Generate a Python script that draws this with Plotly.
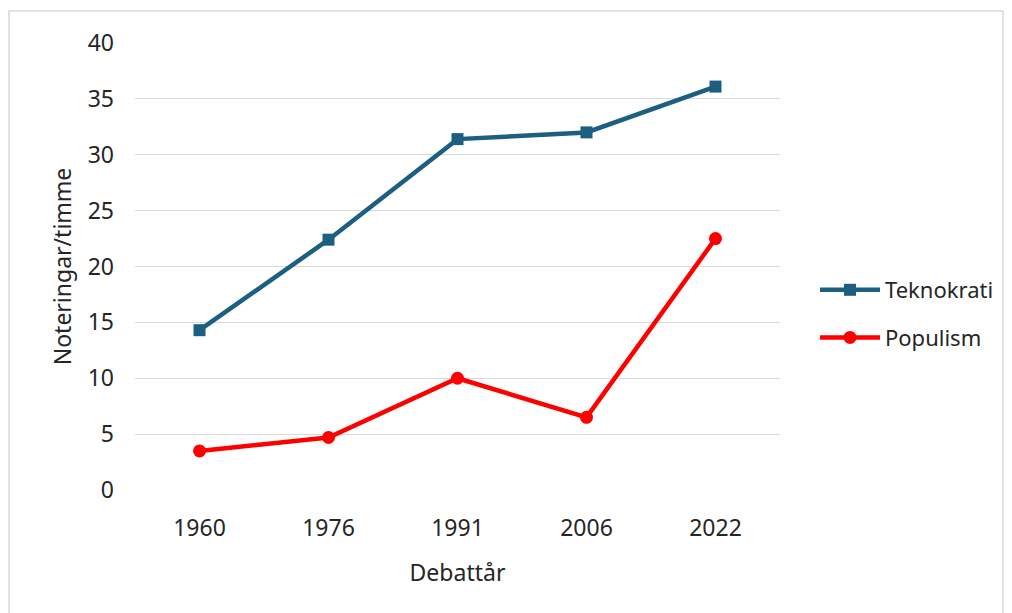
import plotly.graph_objects as go

years = ["1960", "1976", "1991", "2006", "2022"]
teknokrati = [14.3, 22.4, 31.4, 32.0, 36.1]
populism = [3.5, 4.7, 10.0, 6.5, 22.5]
y_ticks = [0, 5, 10, 15, 20, 25, 30, 35, 40]

FONT = "Noto Sans"
TICK_FS = 23
TITLE_FS = 23
LEG_FS = 22
OFF = 8  # default body margin of the page

fig = go.Figure()
fig.add_trace(go.Scatter(
    x=years, y=teknokrati, name="Teknokrati", mode="lines+markers", legendgroup="a",
    line=dict(color="#1C5F80", width=4.5),
    marker=dict(symbol="square", size=12, color="#1C5F80"),
))
fig.add_trace(go.Scatter(
    x=years, y=populism, name="Populism", mode="lines+markers", legendgroup="b",
    line=dict(color="#FF0000", width=4.5),
    marker=dict(symbol="circle", size=13, color="#FF0000"),
))

W, H = 1012 - OFF, 613 - OFF
L, R, T, B = 135 - OFF, 1012 - 780, 43 - OFF, 613 - 490
pw, ph = W - L - R, H - T - B

def px(x):
    return (x - OFF - L) / pw

def py(y):
    return 1 - (y - OFF - T) / ph

fig.update_layout(
    width=W, height=H,
    margin=dict(l=L, r=R, t=T, b=B),
    paper_bgcolor="white", plot_bgcolor="white",
    font=dict(family=FONT, size=TICK_FS, color="#262626"),
    showlegend=True,
    legend=dict(
        x=px(815), y=py(269), xanchor="left", yanchor="top",
        font=dict(family=FONT, size=LEG_FS, color="#262626"),
        tracegroupgap=16, itemwidth=60,
    ),
    xaxis=dict(
        type="category", range=[-0.5, 4.5],
        showgrid=False, zeroline=False, showline=False,
        ticks="", tickfont=dict(family=FONT, size=TICK_FS, color="#262626"),
        ticklabelstandoff=22,
        title=dict(text="Debattår", font=dict(family=FONT, size=TITLE_FS, color="#262626"), standoff=22),
    ),
    yaxis=dict(
        range=[0, 40], tickvals=y_ticks, showgrid=True, gridcolor="#D9D9D9", gridwidth=1,
        zeroline=False, showline=False, ticks="",
        tickfont=dict(family=FONT, size=TICK_FS, color="#262626"),
        ticklabelstandoff=20,
        title=dict(text="Noteringar/timme", font=dict(family=FONT, size=TITLE_FS, color="#262626"), standoff=9),
    ),
    shapes=[dict(
        type="rect", xref="paper", yref="paper",
        x0=px(9), x1=px(1003),
        y0=py(650), y1=py(11),
        line=dict(color="#D9D9D9", width=1.5), fillcolor="rgba(0,0,0,0)", layer="below",
    )],
)

fig.write_html("out.html")
